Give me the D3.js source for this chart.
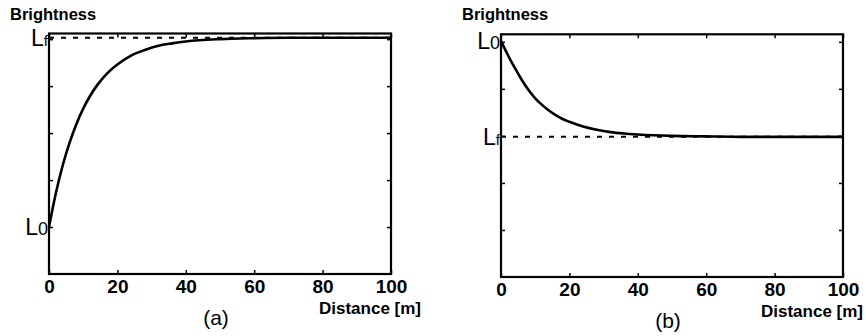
<!DOCTYPE html>
<html>
<head>
<meta charset="utf-8">
<script src="https://cdn.jsdelivr.net/npm/d3@7"></script>
<style>
  body { margin: 0; background: #fff; }
  svg { display: block; }
  text { font-family: "Liberation Sans", Arial, sans-serif; fill: #000; }
</style>
</head>
<body>
<div id="chart"></div>
<script>
// distance samples (m)
const distA = [0, 2, 4, 6, 8, 10, 12, 14, 16, 18, 20, 24, 28, 32, 36, 40, 50, 60, 70, 80, 90, 100];
const distB = [0, 2, 4, 6, 8, 10, 12, 14, 16, 18, 20, 24, 28, 32, 36, 40, 50, 60, 70, 80, 90, 100];
// brightness (arbitrary units, one tick = 1)
const brightA = [1.00, 1.72, 2.31, 2.79, 3.19, 3.52, 3.79, 4.01, 4.19, 4.34, 4.46, 4.65, 4.77, 4.86, 4.91, 4.95, 5.00, 5.02, 5.03, 5.03, 5.03, 5.03];
const brightB = [5.02, 4.72, 4.45, 4.20, 3.98, 3.80, 3.66, 3.54, 3.44, 3.36, 3.30, 3.20, 3.13, 3.08, 3.05, 3.03, 3.00, 2.99, 2.98, 2.98, 2.98, 2.98];
const levelsA = { L0: 1.00, Lf: 5.03 };
const levelsB = { L0: 5.02, Lf: 2.98 };
const xTicks = [0, 20, 40, 60, 80, 100];
const yTicks = [1, 2, 3, 4, 5];

const svg = d3.select("#chart").append("svg")
  .attr("width", 866)
  .attr("height", 336);

function drawPanel(opt) {
  const x = d3.scaleLinear().domain([0, 100]).range([opt.left, opt.right]);
  const y = d3.scaleLinear().domain([0, opt.yMax]).range([opt.bottom, opt.top]);
  const g = svg.append("g");

  // inward ticks on all four sides
  const tick = 4;
  g.append("g").attr("transform", `translate(0,${opt.top})`)
    .call(d3.axisTop(x).tickValues(xTicks).tickSize(-tick).tickFormat(""))
    .call(s => s.select(".domain").remove());
  g.append("g").attr("transform", `translate(${opt.left},0)`)
    .call(d3.axisLeft(y).tickValues(yTicks).tickSize(-tick).tickFormat(""))
    .call(s => s.select(".domain").remove());
  g.append("g").attr("transform", `translate(${opt.right},0)`)
    .call(d3.axisRight(y).tickValues(yTicks).tickSize(-tick).tickFormat(""))
    .call(s => s.select(".domain").remove());
  const bx = g.append("g").attr("transform", `translate(0,${opt.bottom})`)
    .call(d3.axisBottom(x).tickValues(xTicks).tickSize(-tick).tickPadding(6))
    .call(s => s.select(".domain").remove());
  bx.selectAll("text")
    .style("font-size", "19px").style("font-weight", "bold")
    .attr("text-anchor", "middle");
  g.selectAll(".tick line").attr("stroke-width", 1.5);

  // frame
  g.append("rect")
    .attr("x", opt.left).attr("y", opt.top)
    .attr("width", opt.right - opt.left).attr("height", opt.bottom - opt.top)
    .attr("fill", "none").attr("stroke", "#000").attr("stroke-width", 2.2);

  // asymptote (dashed)
  g.append("line")
    .attr("x1", x(0)).attr("x2", x(100))
    .attr("y1", y(opt.levels.Lf)).attr("y2", y(opt.levels.Lf))
    .attr("stroke", "#000").attr("stroke-width", 2)
    .attr("stroke-dasharray", "5,7");

  // brightness curve
  const pts = opt.dist.map((d, i) => [d, opt.bright[i]]);
  g.append("path")
    .datum(pts)
    .attr("fill", "none").attr("stroke", "#000").attr("stroke-width", 2.6)
    .attr("d", d3.line().x(d => x(d[0])).y(d => y(d[1])).curve(d3.curveMonotoneX));

  // level labels
  const lab = (val, sub, subSize) => {
    const t = g.append("text")
      .attr("x", opt.left - 1).attr("y", y(val) + 8)
      .attr("text-anchor", "end")
      .style("font-size", "23px");
    t.append("tspan").text("L");
    t.append("tspan").text(sub).style("font-size", subSize + "px");
  };
  lab(opt.levels.L0, "0", 18);
  lab(opt.levels.Lf, "f", 15);

  // axis titles
  g.append("text").attr("x", opt.left - 39).attr("y", 20)
    .style("font-size", "16.5px").style("font-weight", "bold")
    .text("Brightness");
  g.append("text").attr("x", opt.tagRight).attr("y", opt.bottom + 40)
    .attr("text-anchor", "end")
    .style("font-size", "17px").style("font-weight", "bold")
    .text("Distance [m]");
  g.append("text").attr("x", (opt.left + opt.right) / 2 - 4).attr("y", opt.bottom + 51)
    .attr("text-anchor", "middle")
    .style("font-size", "21px")
    .text(opt.tag);
}

drawPanel({ left: 49, right: 391, top: 33.5, bottom: 274, yMax: 5.12, tagRight: 421,
  dist: distA, bright: brightA, levels: levelsA, tag: "(a)" });
drawPanel({ left: 501, right: 843, top: 34.3, bottom: 277, yMax: 5.16, tagRight: 863,
  dist: distB, bright: brightB, levels: levelsB, tag: "(b)" });
</script>
</body>
</html>
